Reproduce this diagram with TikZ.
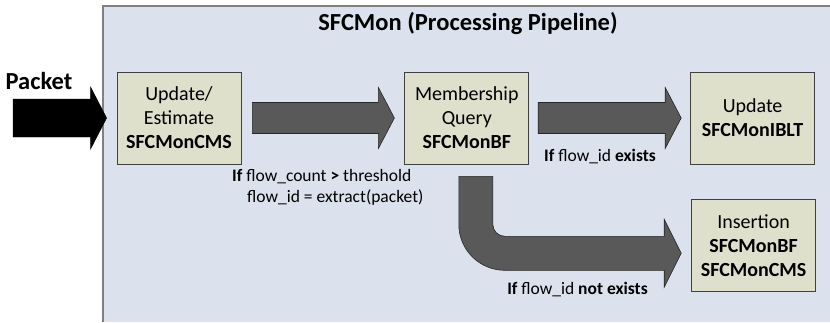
\documentclass[tikz,border=0pt]{standalone}
\usepackage{fontspec}
\setmainfont{Carlito}
\usetikzlibrary{positioning,calc}

\definecolor{panelfill}{RGB}{220,225,238}
\definecolor{panelline}{RGB}{128,128,128}
\definecolor{boxfill}{RGB}{222,224,204}
\definecolor{boxline}{RGB}{64,64,64}
\definecolor{arrowgray}{RGB}{89,89,89}
\definecolor{arrowline}{RGB}{38,38,38}

\tikzset{
  stage/.style={draw=boxline,fill=boxfill,line width=0.8pt,minimum width=124pt,
    minimum height=92pt,align=center,inner sep=2pt,font=\fontsize{20}{24}\selectfont},
  cond/.style={font=\fontsize{17.5}{21}\selectfont,align=left,inner sep=0pt},
  headline/.style={font=\fontsize{24.5}{29}\selectfont\bfseries,inner sep=0pt},
  fat/.style={fill=arrowgray,draw=arrowline,line width=0.6pt},
  inlet/.style={fill=black,draw=black,line width=0.4pt}
}

% block arrow: style, start, tip, half shaft, half head
\newcommand{\fatarrow}[5]{%
  \path[#1] let \p1=(#2), \p2=(#3) in
    (\x1,{\y1+#4}) -- ({\x2-16pt},{\y1+#4}) -- ({\x2-16pt},{\y1+#5}) -- (\x2,\y1)
    -- ({\x2-16pt},{\y1-#5}) -- ({\x2-16pt},{\y1-#4}) -- (\x1,{\y1-#4}) -- cycle;}

\begin{document}
\begin{tikzpicture}[x=1pt,y=-1pt]
  \useasboundingbox (0,0) rectangle (830,322);

  % pipeline frame
  \fill[panelfill] (103,6) rectangle (830,322);
  \draw[panelline,line width=1.5pt] (103,322) -- (103,6) -- (830,6);
  \node[headline] (title) at (468,23) {SFCMon (Processing Pipeline)};

  % stages
  \node[stage] (upd) at (179,118) {Update/\\Estimate\\\textbf{SFCMonCMS}};
  \node[stage] (bfq) [right=163pt of upd] {Membership\\Query\\\textbf{SFCMonBF}};
  \node[stage] (iblt) [right=161pt of bfq] {Update\\\textbf{SFCMonIBLT}};
  \node[stage] (ins) [below=35pt of iblt,xshift=1pt] {Insertion\\\textbf{SFCMonBF}\\\textbf{SFCMonCMS}};

  % incoming packet
  \node[headline] (pkt) at (39,81) {Packet};
  \coordinate (src) at (13,118);
  \fatarrow{inlet}{src}{$(upd.west)+(-10,0)$}{19pt}{31pt}

  % flows between the stages
  \fatarrow{fat}{$(upd.east)+(11,0)$}{$(bfq.west)+(-10,0)$}{15.5pt}{30.5pt}
  \fatarrow{fat}{$(bfq.east)+(9,0)$}{$(iblt.west)+(-9,0)$}{15.5pt}{30.5pt}

  \coordinate (drop) at ($(bfq.south)+(9,12)$);
  \path[fat] let \p1=(drop), \p2=($(ins.west)+(-10,7.5)$) in
    ({\x1-17pt},\y1) -- ({\x1-17pt},{\y2+29pt})
    arc[start angle=180,end angle=270,radius=46pt]
    -- ({\x2-17pt},{\y2-17pt}) -- ({\x2-17pt},{\y2-34pt}) -- (\x2,\y2)
    -- ({\x2-17pt},{\y2+34pt}) -- ({\x2-17pt},{\y2+17pt})
    -- ({\x1+29pt},{\y2+17pt})
    arc[start angle=270,end angle=180,radius=12pt]
    -- ({\x1+17pt},\y1) -- cycle;

  % conditions
  \node[cond,anchor=north west] (thr) at (232,169)
    {\textbf{If} flow\_count \textbf{>} threshold\\\hspace*{15pt}flow\_id = extract(packet)};
  \node[cond] (hit) at (600,157) {\textbf{If} flow\_id \textbf{exists}};
  \node[cond] (miss) at (577.5,290) {\textbf{If} flow\_id \textbf{not exists}};
\end{tikzpicture}
\end{document}
